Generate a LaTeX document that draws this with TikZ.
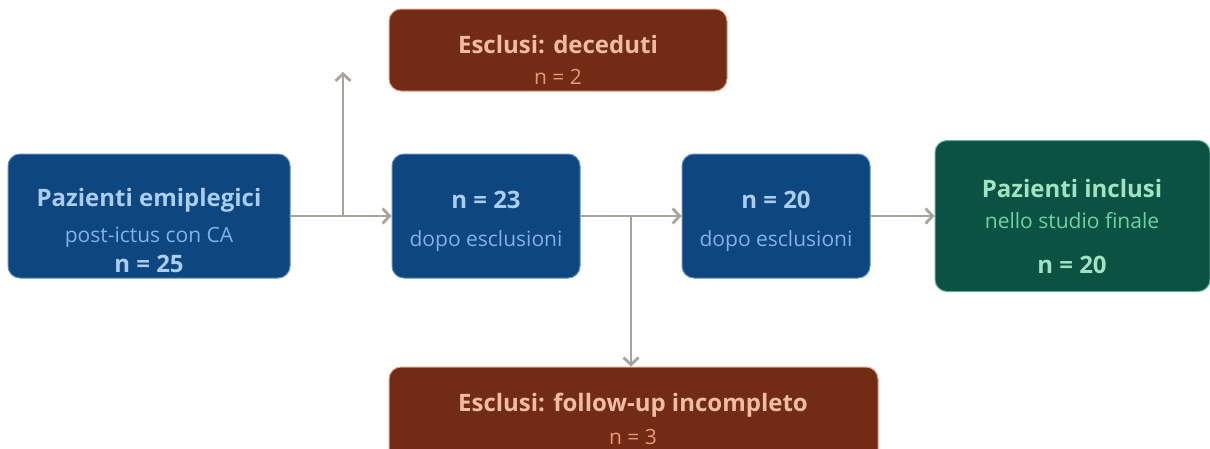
\documentclass[tikz,border=0pt]{standalone}
\usepackage{fontspec}
\setmainfont{Open Sans}
\usetikzlibrary{arrows.meta}
\definecolor{bluefill}{HTML}{0E4680}
\definecolor{blueedge}{HTML}{5C8CC0}
\definecolor{bluetitle}{HTML}{AACDF0}
\definecolor{bluesub}{HTML}{80B3E6}
\definecolor{brownfill}{HTML}{722B15}
\definecolor{brownedge}{HTML}{E8A084}
\definecolor{browntitle}{HTML}{F2BCA4}
\definecolor{brownsub}{HTML}{E8977A}
\definecolor{greenfill}{HTML}{0B5242}
\definecolor{greenedge}{HTML}{5FB090}
\definecolor{greentitle}{HTML}{A0E2C2}
\definecolor{greensub}{HTML}{6ED3A4}
\definecolor{connector}{HTML}{A8A49C}
\tikzset{
  boxbase/.style={rounded corners=12pt, line width=1pt, inner sep=0pt},
  bluebox/.style={boxbase, fill=bluefill, draw=blueedge},
  brownbox/.style={boxbase, fill=brownfill, draw=brownedge},
  greenbox/.style={boxbase, fill=greenfill, draw=greenedge},
  ttl/.style={font=\fontsize{24}{28}\selectfont\bfseries, inner sep=0pt},
  sub/.style={font=\fontsize{21}{25}\selectfont, inner sep=0pt},
  conn/.style={draw=connector, line width=2.8pt},
  arr/.style={conn, -{Straight Barb[length=7pt,width=15pt]}}
}
\begin{document}
\begin{tikzpicture}[x=1pt,y=-1pt]
\useasboundingbox (0,0) rectangle (1210,448);
\clip (0,0) rectangle (1210,448);
% boxes
\node[bluebox, minimum width=282pt, minimum height=124pt] (boxA) at (149,216) {};
\node[bluebox, minimum width=188pt, minimum height=124pt] (boxB) at (486,216) {};
\node[bluebox, minimum width=188pt, minimum height=124pt] (boxC) at (776,216) {};
\node[greenbox, minimum width=275pt, minimum height=151pt] (boxD) at (1072.5,216) {};
\node[brownbox, minimum width=338pt, minimum height=82pt] (boxT) at (558,50) {};
\node[brownbox, minimum width=489pt, minimum height=100pt] (boxU) at (633.5,417) {};
% texts
\node[ttl, text=bluetitle] (a1) at (149,200) {Pazienti emiplegici};
\node[sub, text=bluesub] (a2) at (149,237) {post-ictus con CA};
\node[ttl, text=bluetitle] (a3) at (149,264) {n = 25};
\node[ttl, text=bluetitle] (b1) at (486,200) {n = 23};
\node[sub, text=bluesub] (b2) at (486,241) {dopo esclusioni};
\node[ttl, text=bluetitle] (c1) at (776,200) {n = 20};
\node[sub, text=bluesub] (c2) at (776,241) {dopo esclusioni};
\node[ttl, text=greentitle] (d1) at (1072,188) {Pazienti inclusi};
\node[sub, text=greensub] (d2) at (1072,221) {nello studio finale};
\node[ttl, text=greentitle] (d3) at (1072,265) {n = 20};
\node[ttl, text=browntitle] (t1) at (558,45) {Esclusi: deceduti};
\node[sub, text=brownsub] (t2) at (558,77) {n = 2};
\node[ttl, text=browntitle] (u1) at (633,405) {Esclusi: follow-up incompleto};
\node[sub, text=brownsub] (u2) at (633,437) {n = 3};
% connectors
\coordinate (j1) at (343,216);
\coordinate (up) at (343,72);
\coordinate (j2) at (631,216);
\draw[arr] (boxA.east) -- (boxB.west);
\draw[arr] (j1) -- (up);
\draw[arr] (boxB.east) -- (boxC.west);
\draw[arr] (j2) -- (j2 |- boxU.north);
\draw[arr] (boxC.east) -- (boxD.west);
\end{tikzpicture}
\end{document}
